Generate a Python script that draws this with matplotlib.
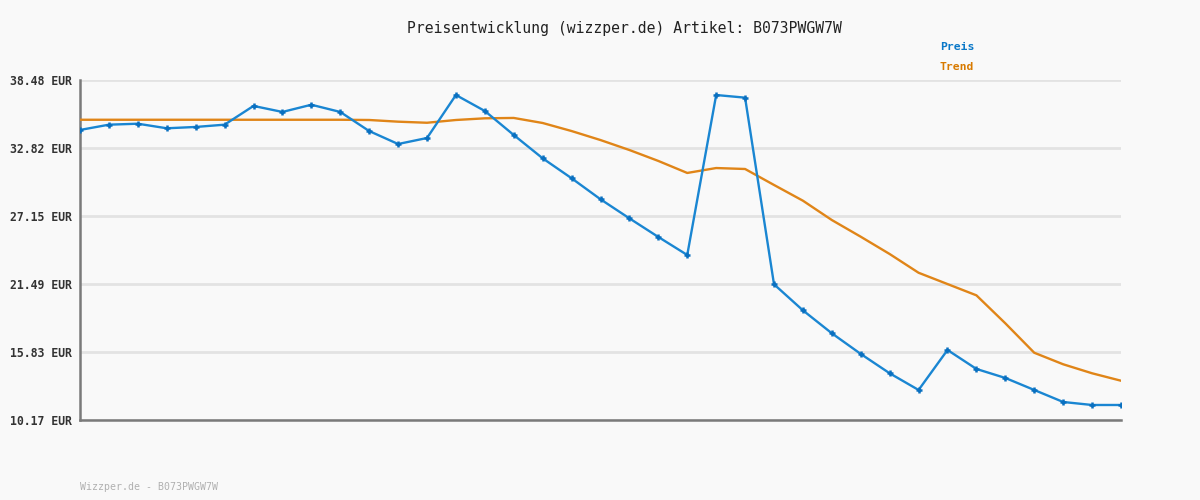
import matplotlib.pyplot as plt

# Preis (blue) and Trend (orange)
preis = [34.32, 34.76, 34.84, 34.46, 34.57, 34.76, 36.32, 35.82, 36.42, 35.82,
         34.23, 33.15, 33.65, 37.23, 35.90, 33.90, 31.96, 30.30, 28.55, 26.96,
         25.41, 23.91, 37.23, 37.01, 21.47, 19.30, 17.39, 15.67, 14.06, 12.67,
         16.00, 14.42, 13.67, 12.67, 11.67, 11.42, 11.42]
trend = [35.17, 35.17, 35.17, 35.17, 35.17, 35.17, 35.17, 35.17, 35.17, 35.17,
         35.15, 35.01, 34.92, 35.15, 35.29, 35.32, 34.90, 34.23, 33.48, 32.65,
         31.74, 30.74, 31.15, 31.07, 29.74, 28.43, 26.82, 25.43, 23.99, 22.43,
         21.49, 20.55, 18.22, 15.77, 14.81, 14.06, 13.44]
y_ticks = [10.17, 15.83, 21.49, 27.15, 32.82, 38.48]
title = "Preisentwicklung (wizzper.de) Artikel: B073PWGW7W"
footer = "Wizzper.de - B073PWGW7W"

bg = '#f9f9f9'
blue = '#1a86d2'
orange = '#e08518'
mono = 'DejaVu Sans Mono'

fig = plt.figure(figsize=(12, 5), dpi=100, facecolor=bg)
ax = fig.add_axes([80/1200, 1 - 420/500, (1121-80)/1200, 340/500])
ax.set_facecolor(bg)

x = list(range(len(preis)))
ax.plot(x, trend, color=orange, lw=1.7, zorder=3)
ax.plot(x, preis, color=blue, lw=1.7, marker='+', ms=5, mew=1.8,
        mec='#0a70c0', zorder=4)

ax.set_xlim(0, len(preis) - 1)
ax.set_ylim(y_ticks[0], y_ticks[-1])
ax.set_yticks(y_ticks)
ax.set_yticklabels([f"{v:.2f} EUR" for v in y_ticks], fontfamily=mono,
                   fontweight='bold', fontsize=8.3, color='#333333')
ax.set_xticks([])
ax.tick_params(axis='y', length=0, pad=5.5)
ax.grid(axis='y', color='#e3e3e3', lw=2, zorder=0)

for s in ['top', 'right']:
    ax.spines[s].set_visible(False)
for s in ['left', 'bottom']:
    ax.spines[s].set_color('#7a7a7a')
    ax.spines[s].set_linewidth(1.8)

fig.text(624/1200, 1 - 28/500, title, ha='center', va='center',
         fontfamily=mono, fontsize=10.6, color='#222222')
fig.text(940/1200, 1 - 47/500, "Preis", ha='left', va='center',
         fontfamily=mono, fontweight='bold', fontsize=8.2, color='#0a78c8')
fig.text(940/1200, 1 - 67/500, "Trend", ha='left', va='center',
         fontfamily=mono, fontweight='bold', fontsize=8.2, color='#d87a00')
fig.text(80/1200, 1 - 487/500, footer, ha='left', va='center',
         fontfamily=mono, fontsize=7.1, color='#b0b0b0')

fig.savefig('out.png', dpi=100, facecolor=bg)
